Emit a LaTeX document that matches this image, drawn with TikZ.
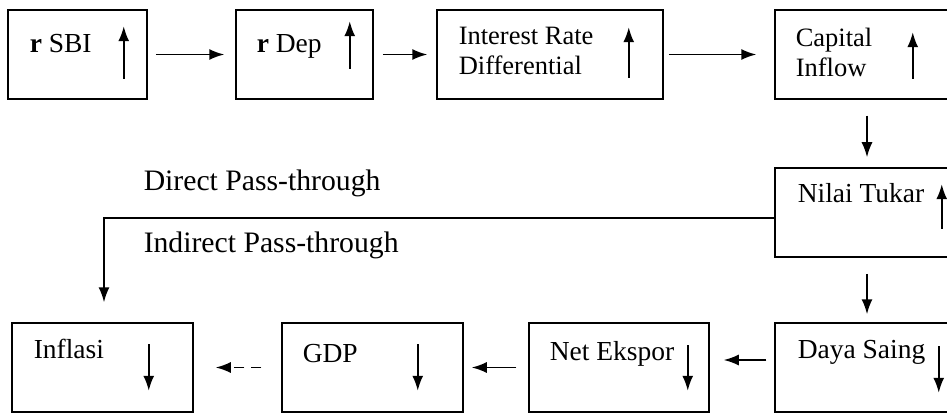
\documentclass[tikz,border=0pt]{standalone}
\usepackage{fontspec}
\setmainfont{Liberation Serif}
\usetikzlibrary{arrows.meta}
\begin{document}
\begin{tikzpicture}[x=1pt,y=1pt,line width=1.5pt,>={Latex[length=15pt,width=11pt]}]
\tikzstyle{every node}+=[inner sep=0pt]
\tikzstyle{box}=[draw, rectangle, minimum height=89pt]
\tikzstyle{txt}=[font=\fontsize{27.5}{30}\selectfont, anchor=base west, align=left]
\tikzstyle{pass}=[txt, font=\fontsize{29.7}{33}\selectfont]
\tikzstyle{ind}=[->, line width=1.8pt]
\tikzstyle{link}=[->, line width=1.6pt]
\useasboundingbox (0,0) rectangle (947,-414);
% boxes, top row
\node[box, minimum width=139pt] (sbi) at (77.5,-54.5) {};
\node[box, minimum width=137pt] (dep) at (304.5,-54.5) {};
\node[box, minimum width=226pt] (ird) at (550,-54.5) {};
\node[box, minimum width=184pt] (cap) at (867,-54.5) {};
% right column
\node[box, minimum width=184pt] (nt) at (867,-212.5) {};
\node[box, minimum width=184pt] (ds) at (867,-367.5) {};
% bottom row
\node[box, minimum width=180pt] (ne) at (619,-367.5) {};
\node[box, minimum width=181pt] (gdp) at (372.5,-367.5) {};
\node[box, minimum width=181pt] (inf) at (102.5,-367.5) {};
% texts
\node[txt] (sbiT) at (29,-53) {\textbf{r} SBI};
\node[txt] (depT) at (256,-53) {\textbf{r} Dep};
\node[txt, font=\fontsize{26.5}{30}\selectfont] (irdT) at (458,-75) {Interest Rate\\Differential};
\node[txt, font=\fontsize{26.5}{30}\selectfont] (capT) at (795,-77) {Capital\\Inflow};
\node[txt] (ntT) at (797,-202) {Nilai Tukar};
\node[txt] (dsT) at (797,-358) {Daya Saing};
\node[txt] (neT) at (549,-360) {Net Ekspor};
\node[txt] (gdpT) at (302,-362) {GDP};
\node[txt] (infT) at (33,-358) {Inflasi};
\node[pass] (direct) at (143,-190) {Direct Pass-through};
\node[pass] (indirect) at (143,-252) {Indirect Pass-through};
% up and down marks
\draw[ind] ([xshift=-24pt,yshift=21pt]sbi.south east) -- ([xshift=-24pt,yshift=-17pt]sbi.north east);
\draw[ind] ([xshift=-24pt,yshift=31pt]dep.south east) -- ([xshift=-24pt,yshift=-12pt]dep.north east);
\draw[ind] ([xshift=-35pt,yshift=22pt]ird.south east) -- ([xshift=-35pt,yshift=-18pt]ird.north east);
\draw[ind] ([xshift=-47pt,yshift=21pt]cap.south east) -- ([xshift=-47pt,yshift=-23pt]cap.north east);
\draw[ind] ([xshift=-18pt,yshift=29pt]nt.south east) -- ([xshift=-18pt,yshift=-17pt]nt.north east);
\draw[ind] ([xshift=-21pt,yshift=-24pt]ds.north east) -- ([xshift=-21pt,yshift=20pt]ds.south east);
\draw[ind] ([xshift=-22pt,yshift=-23pt]ne.north east) -- ([xshift=-22pt,yshift=22pt]ne.south east);
\draw[ind] ([xshift=-46pt,yshift=-22pt]gdp.north east) -- ([xshift=-46pt,yshift=22pt]gdp.south east);
\draw[ind] ([xshift=-45pt,yshift=-22pt]inf.north east) -- ([xshift=-45pt,yshift=22pt]inf.south east);
% connectors
\draw[link, shorten <=8pt, shorten >=11pt] (sbi.east) -- (dep.west);
\draw[link, shorten <=9pt, shorten >=9pt] (dep.east) -- (ird.west);
\draw[link, shorten <=5pt, shorten >=18pt] (ird.east) -- (cap.west);
\draw[link, shorten <=16pt, shorten >=10pt] (cap.south) -- (nt.north);
\draw[link, shorten <=16pt, shorten >=8pt] (nt.south) -- (ds.north);
\draw[link, shorten <=8pt, shorten >=14pt] ([yshift=7.5pt]ds.west) -- ([yshift=7.5pt]ne.east);
\draw[link, shorten <=12pt, shorten >=8pt] (ne.west) -- (gdp.east);
\draw[link, shorten <=20pt, shorten >=22pt, dash pattern=on 10pt off 7pt] (gdp.west) -- (inf.east);
\draw[link, shorten >=20pt] ([yshift=-5.5pt]nt.west) -| ([xshift=1.5pt]inf.north);
\end{tikzpicture}
\end{document}
